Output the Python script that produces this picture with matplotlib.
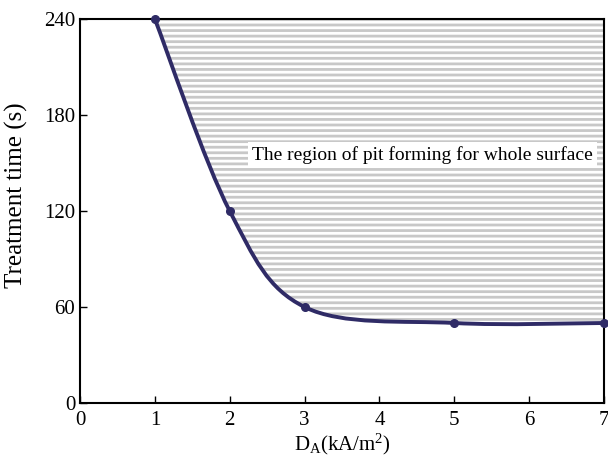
import numpy as np
import matplotlib
matplotlib.use('Agg')
import matplotlib.pyplot as plt
from matplotlib.path import Path
from matplotlib.patches import PathPatch

# data
current_density = [1, 2, 3, 5, 7]
treatment_time = [240, 120, 60, 50, 50]
x_ticks = [0, 1, 2, 3, 4, 5, 6, 7]
y_ticks = [0, 60, 120, 180, 240]
region_label = 'The region of pit forming for whole surface'

plt.rcParams['font.family'] = 'Liberation Serif'
plt.rcParams['mathtext.default'] = 'regular'
plt.rcParams['hatch.linewidth'] = 2.0
plt.rcParams['hatch.color'] = '#c8c8c8'

LINE = '#2f2b66'


def smooth_path(xs, ys, tension=1/6.):
    # Catmull-Rom -> cubic bezier, drawn by matplotlib's own path renderer
    pts = list(zip(xs, ys))
    verts = [pts[0]]
    codes = [Path.MOVETO]
    n = len(pts)
    for i in range(n - 1):
        p0 = pts[i - 1] if i > 0 else pts[i]
        p1 = pts[i]
        p2 = pts[i + 1]
        p3 = pts[i + 2] if i + 2 < n else pts[i + 1]
        c1 = (p1[0] + (p2[0] - p0[0]) * tension, p1[1] + (p2[1] - p0[1]) * tension)
        c2 = (p2[0] - (p3[0] - p1[0]) * tension, p2[1] - (p3[1] - p1[1]) * tension)
        verts += [c1, c2, p2]
        codes += [Path.CURVE4] * 3
    return verts, codes


fig = plt.figure(figsize=(6.08, 4.66), dpi=100)
ax = fig.add_axes([0.1316, 0.1352, 0.8618, 0.824])

verts, codes = smooth_path(current_density, treatment_time)

# shaded region above the curve
reg_verts = verts + [(current_density[-1], y_ticks[-1]), (current_density[0], y_ticks[-1]), verts[0]]
reg_codes = codes + [Path.LINETO, Path.LINETO, Path.CLOSEPOLY]
ax.add_patch(PathPatch(Path(reg_verts, reg_codes), facecolor='none', edgecolor='#c8c8c8',
                       hatch='---', lw=0, zorder=1))

ax.add_patch(PathPatch(Path(verts, codes), facecolor='none', edgecolor=LINE, lw=2.8,
                       zorder=3, capstyle='round'))
ax.plot(current_density, treatment_time, 'o', color=LINE, ms=5.5, zorder=4, clip_on=False)

ax.text(4.57, 155, region_label, fontsize=14, ha='center', va='center', zorder=5,
        bbox=dict(facecolor='white', edgecolor='none', pad=3))

ax.set_xlim(0, 7)
ax.set_ylim(0, 240)
ax.set_xticks(x_ticks)
ax.set_yticks(y_ticks)
ax.tick_params(direction='in', length=5, width=1, labelsize=15, top=False, right=False)
ax.tick_params(axis='x', pad=6)
for s in ax.spines.values():
    s.set_linewidth(1.5)

ax.set_xlabel('D$_A$(kA/m$^2$)', fontsize=15, labelpad=1)
ax.set_ylabel('Treatment time (s)', fontsize=18)
ax.yaxis.set_label_coords(-0.1, 0.54)

fig.savefig('out.png', dpi=100)
